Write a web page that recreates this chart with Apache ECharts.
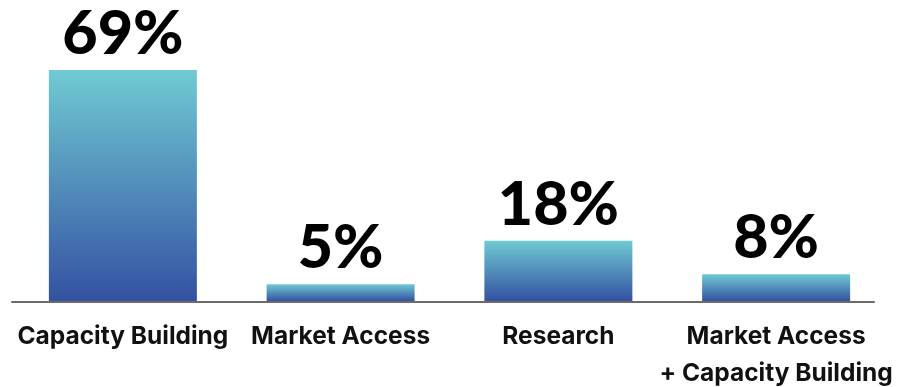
<!DOCTYPE html>
<html>
<head>
<meta charset="utf-8">
<style>
  html, body { margin: 0; padding: 0; background: #ffffff; }
  #chart { width: 902px; height: 387px; }
</style>
<script src="https://cdn.jsdelivr.net/npm/echarts@6/dist/echarts.min.js"></script>
</head>
<body>
<div id="chart"></div>
<script>
// Share of projects by focus area
const categories = ['Capacity Building', 'Market Access', 'Research', 'Market Access\n+ Capacity Building'];
const shares = [69, 5, 18, 8];

const chart = echarts.init(document.getElementById('chart'), null, { renderer: 'canvas' });

const barGradient = new echarts.graphic.LinearGradient(0, 0, 0, 1, [
  { offset: 0, color: '#70cad3' },
  { offset: 1, color: '#3451a2' }
]);

chart.setOption({
  backgroundColor: '#ffffff',
  animation: false,
  grid: [
    { left: 14, right: 17, top: 70, bottom: 86, outerBoundsMode: 'none', containLabel: false },
    // baseline rule only
    { left: 12, right: 28, top: 70, bottom: 85, outerBoundsMode: 'none', containLabel: false }
  ],
  xAxis: [
    {
      type: 'category',
      gridIndex: 0,
      data: categories,
      axisLine: { show: false },
      axisTick: { show: false },
      axisLabel: {
        color: '#111111',
        fontFamily: 'Inter',
        fontWeight: 700,
        fontSize: 24.5,
        lineHeight: 37,
        margin: 17,
        interval: 0,
        align: 'center'
      }
    },
    {
      type: 'category',
      gridIndex: 1,
      data: [''],
      z: 5,
      axisLine: { show: true, lineStyle: { color: 'rgba(0,0,0,0.58)', width: 2 } },
      axisTick: { show: false },
      axisLabel: { show: false }
    }
  ],
  yAxis: [
    { type: 'value', gridIndex: 0, min: 0, max: 69, show: false },
    { type: 'value', gridIndex: 1, min: 0, max: 1, show: false }
  ],
  series: [
    {
      type: 'bar',
      xAxisIndex: 0,
      yAxisIndex: 0,
      data: shares,
      barWidth: 148,
      itemStyle: { color: barGradient },
      label: {
        show: true,
        position: 'top',
        distance: 5,
        formatter: p => p.value + '%',
        color: '#000000',
        fontFamily: 'Lato',
        fontWeight: 900,
        fontSize: 61
      }
    }
  ]
});
</script>
</body>
</html>
